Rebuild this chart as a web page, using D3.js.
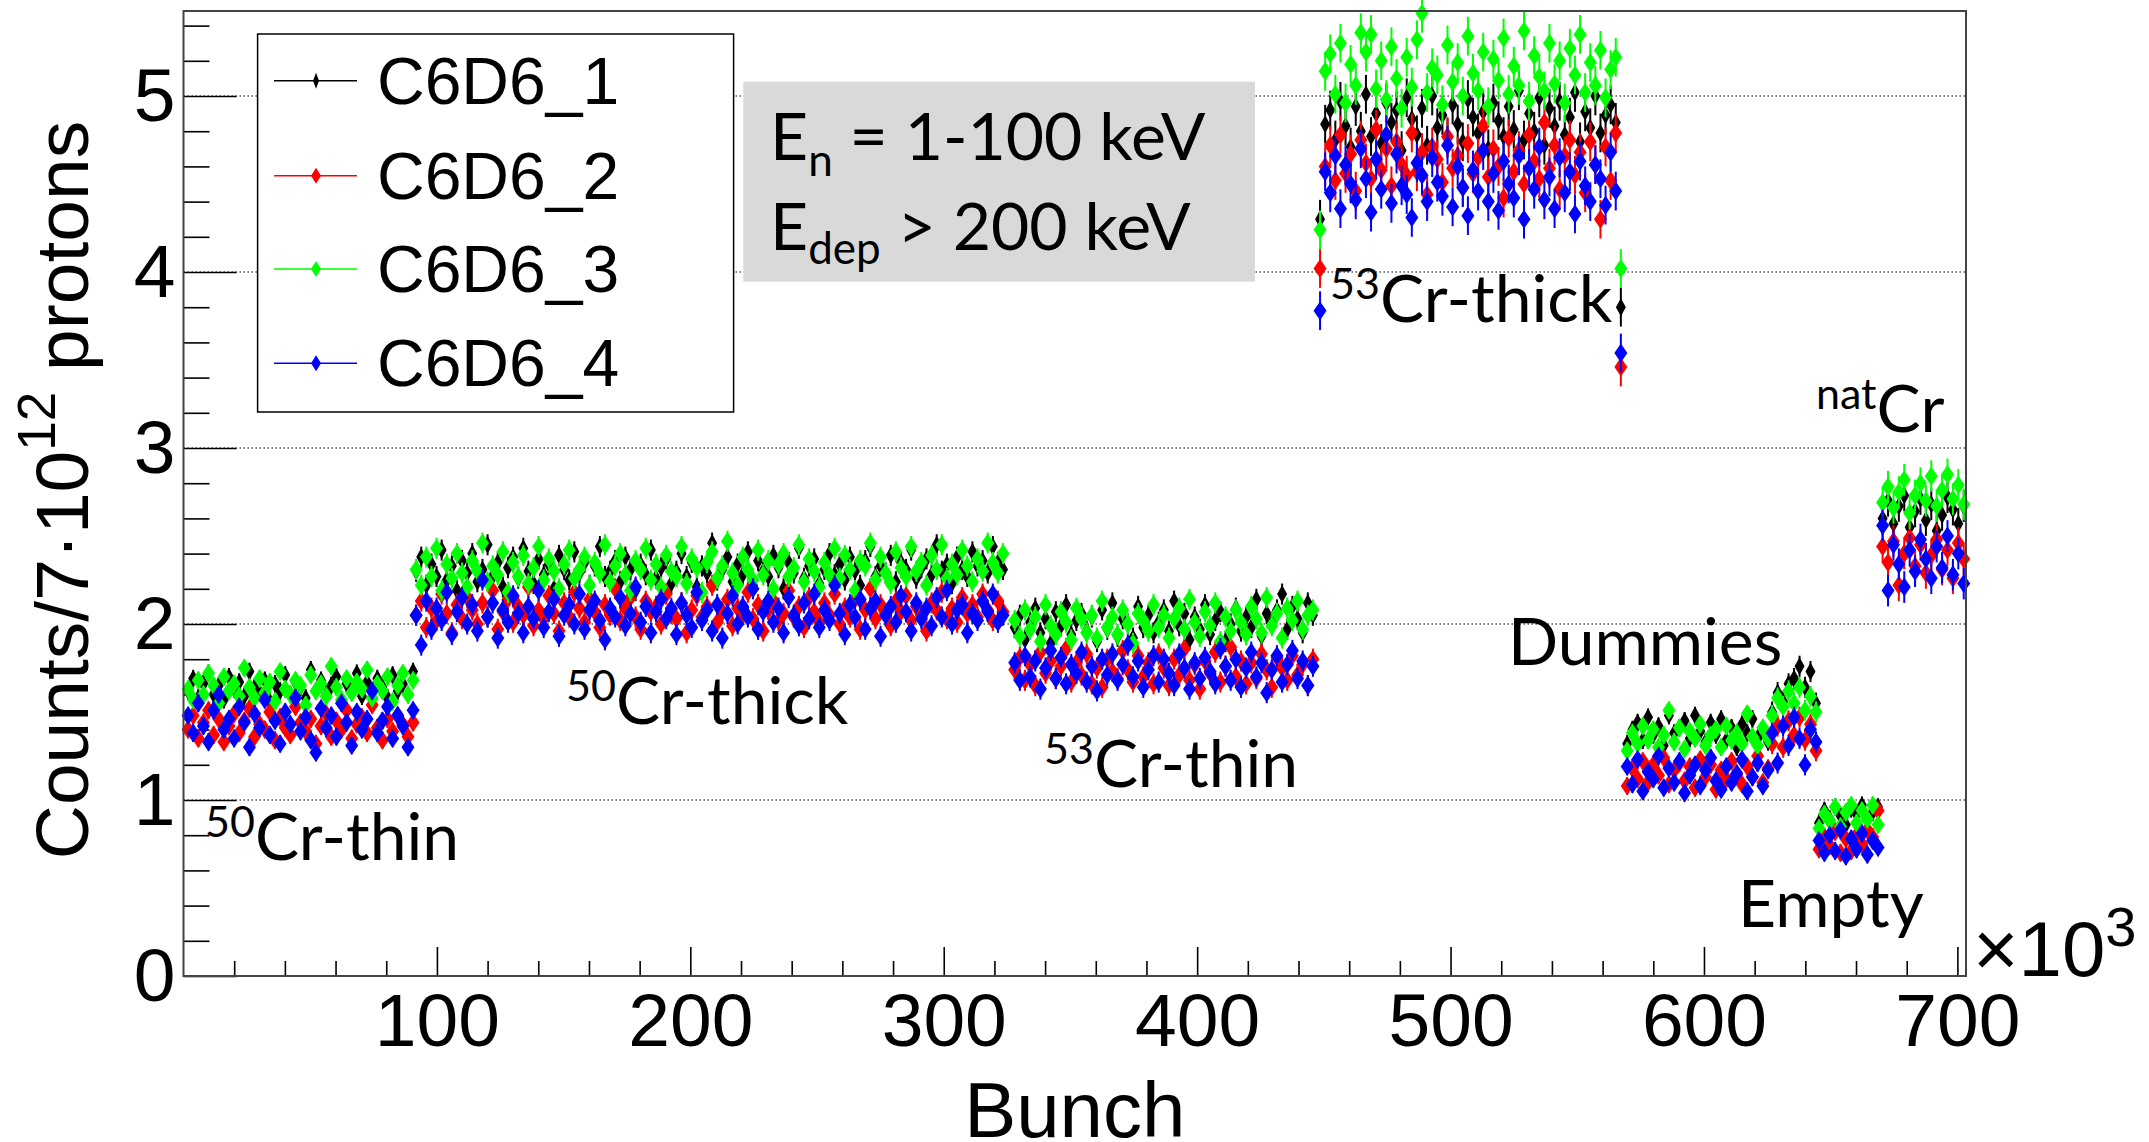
<!DOCTYPE html>
<html>
<head>
<meta charset="utf-8">
<script src="https://cdn.jsdelivr.net/npm/d3@7"></script>
<style>
  body { margin: 0; background: #fff; }
  .root { font-family: "Liberation Sans", Arial, Helvetica, sans-serif; fill: #000; }
  .note { font-family: Lato, "Open Sans", sans-serif; fill: #000; }
</style>
</head>
<body>
<svg id="chart" width="2149" height="1142"></svg>
<script>
// bunch ranges (x1000) of each sample block, in the order they were measured
const segments = ['50Cr-thin', '50Cr-thick', '53Cr-thin', '53Cr-thick', 'Dummies', 'Dummies-b', 'Empty', 'natCr'];
const segFrom = [1.8, 91.8, 328, 448.5, 569.7, 626.9, 645.4, 670.5];
const segTo = [90.6, 323.4, 445.7, 567.2, 625.3, 644.2, 668.7, 702.5];
const segErr = [0.05, 0.06, 0.06, 0.11, 0.05, 0.06, 0.05, 0.09];

const c6d6_1 = [
    [1.62,1.69,1.58,1.66,1.72,1.60,1.65,1.57,1.70,1.63,1.67,1.59,1.73,1.64,1.61,1.68,1.56,1.66,1.62,1.71,
     1.60,1.67,1.64,1.58,1.74,1.62,1.68,1.60,1.65,1.70,1.57,1.66,1.63,1.72,1.59,1.67,1.61,1.69,1.64,1.58,
     1.71,1.62,1.66,1.60,1.73],
    [2.30,2.38,2.22,2.34,2.27,2.42,2.25,2.33,2.19,2.36,2.29,2.40,2.24,2.31,2.45,2.27,2.35,2.21,2.32,2.38,
     2.26,2.43,2.30,2.23,2.37,2.28,2.34,2.20,2.39,2.31,2.25,2.41,2.29,2.35,2.22,2.33,2.44,2.27,2.30,2.36,
     2.24,2.38,2.31,2.19,2.34,2.28,2.42,2.26,2.32,2.37,2.23,2.30,2.40,2.27,2.35,2.21,2.33,2.29,2.46,2.25,
     2.31,2.38,2.24,2.34,2.28,2.41,2.22,2.36,2.30,2.27,2.39,2.32,2.20,2.35,2.29,2.43,2.26,2.33,2.37,2.23,
     2.31,2.40,2.28,2.34,2.25,2.38,2.30,2.22,2.36,2.44,2.27,2.33,2.29,2.39,2.24,2.35,2.31,2.42,2.26,2.32,
     2.37,2.28,2.45,2.30,2.34,2.23,2.38,2.31,2.27,2.41,2.33,2.36,2.29,2.44,2.35,2.31],
    [1.98,2.05,1.91,2.01,2.09,1.95,2.03,1.89,2.07,1.99,2.11,1.94,2.02,2.06,1.96,2.04,1.90,2.08,1.97,2.12,
     1.93,2.03,2.00,1.92,2.10,1.98,2.05,1.95,2.01,2.08,1.96,2.13,1.99,2.06,1.91,2.04,1.97,2.11,1.94,2.02,
     2.07,1.90,2.00,2.09,1.96,2.04,1.98,2.14,1.93,2.06,2.01,2.08,2.17,1.97,2.10,2.03,1.95,2.12,2.05],
    [4.30,4.84,4.92,4.75,4.97,4.83,4.71,4.94,4.80,5.01,4.77,4.90,4.73,4.96,4.85,4.92,4.69,4.99,4.87,4.78,
     4.93,4.72,5.00,4.82,4.89,4.76,4.95,4.84,4.74,4.98,4.88,4.79,4.91,4.70,4.96,4.86,4.77,4.94,4.81,5.03,
     4.75,4.90,4.80,4.99,4.72,4.93,4.83,4.97,4.78,4.88,5.02,4.74,4.91,4.82,5.00,4.79,4.89,4.95,4.85,3.80],
    [1.32,1.40,1.44,1.34,1.47,1.37,1.42,1.31,1.48,1.38,1.41,1.45,1.35,1.48,1.39,1.33,1.44,1.37,1.46,1.34,
     1.41,1.30,1.43,1.38,1.46,1.35,1.40,1.33],
    [1.50,1.61,1.56,1.66,1.69,1.76,1.64,1.73,1.55],
    [0.87,0.94,0.89,0.96,0.91,0.86,0.95,0.92,0.97,0.89,0.93,0.96],
    [2.60,2.70,2.57,2.67,2.73,2.55,2.64,2.71,2.59,2.68,2.53,2.62,2.72,2.65,2.57,2.67]
];

const c6d6_2 = [
    [1.40,1.48,1.35,1.44,1.51,1.37,1.46,1.33,1.42,1.49,1.38,1.45,1.52,1.36,1.43,1.40,1.50,1.34,1.47,1.41,
     1.37,1.53,1.44,1.39,1.46,1.32,1.42,1.49,1.36,1.45,1.40,1.51,1.35,1.43,1.47,1.38,1.54,1.41,1.34,1.46,
     1.39,1.48,1.43,1.36,1.44],
    [2.05,2.13,1.98,2.09,2.02,2.17,2.06,1.95,2.11,2.03,2.15,2.08,2.00,2.12,2.04,2.19,1.97,2.07,2.14,2.01,
     2.10,2.05,2.21,1.99,2.08,2.03,2.16,2.06,1.96,2.12,2.04,2.18,2.09,2.01,2.14,2.07,1.98,2.11,2.05,2.20,
     2.02,2.09,2.15,2.04,1.97,2.13,2.07,2.10,2.00,2.17,2.06,2.03,2.12,1.95,2.08,2.16,2.04,2.10,2.22,2.01,
     2.07,2.14,1.99,2.09,2.05,2.18,2.03,2.11,1.96,2.08,2.13,2.02,2.06,2.19,2.04,2.10,1.98,2.15,2.07,2.01,
     2.12,2.05,2.17,2.00,2.09,2.04,2.14,1.97,2.08,2.20,2.03,2.11,2.06,1.99,2.13,2.07,2.16,2.02,2.10,2.05,
     1.96,2.12,2.08,2.18,2.03,2.09,2.01,2.15,2.06,2.11,2.04,2.17,2.08,2.02,2.13,2.07],
    [1.74,1.81,1.68,1.77,1.65,1.84,1.72,1.79,1.69,1.76,1.86,1.67,1.78,1.71,1.83,1.66,1.75,1.64,1.80,1.73,
     1.69,1.85,1.74,1.67,1.82,1.70,1.78,1.66,1.83,1.75,1.65,1.80,1.71,1.86,1.68,1.77,1.63,1.79,1.72,1.84,
     1.67,1.76,1.87,1.70,1.79,1.66,1.78,1.69,1.83,1.74,1.64,1.81,1.75,1.68,1.82,1.71,1.77,1.65,1.80],
    [4.02,4.60,4.72,4.52,4.78,4.56,4.67,4.46,4.75,4.62,4.53,4.81,4.58,4.70,4.49,4.74,4.61,4.55,4.79,4.57,
     4.68,4.44,4.71,4.64,4.51,4.77,4.59,4.66,4.48,4.73,4.56,4.65,4.83,4.54,4.70,4.60,4.42,4.76,4.57,4.69,
     4.50,4.78,4.63,4.53,4.85,4.59,4.72,4.47,4.66,4.75,4.55,4.68,4.45,4.74,4.61,4.30,4.71,4.52,4.79,3.46],
    [1.08,1.18,1.12,1.22,1.10,1.20,1.14,1.24,1.09,1.17,1.21,1.11,1.19,1.07,1.23,1.13,1.20,1.06,1.17,1.12,
     1.22,1.15,1.09,1.19,1.13,1.25,1.10,1.18],
    [1.32,1.42,1.30,1.45,1.37,1.47,1.34,1.43,1.28],
    [0.72,0.79,0.74,0.82,0.70,0.78,0.71,0.80,0.75,0.83,0.79,0.94],
    [2.44,2.35,2.47,2.22,2.40,2.49,2.33,2.45,2.29,2.39,2.48,2.31,2.42,2.26,2.46,2.37]
];

const c6d6_3 = [
    [1.63,1.57,1.68,1.60,1.72,1.65,1.55,1.70,1.62,1.66,1.59,1.75,1.64,1.58,1.69,1.61,1.67,1.56,1.73,1.63,
     1.60,1.68,1.65,1.54,1.71,1.62,1.66,1.59,1.76,1.64,1.57,1.69,1.61,1.67,1.63,1.74,1.58,1.66,1.62,1.70,
     1.56,1.65,1.72,1.60,1.68],
    [2.31,2.22,2.38,2.27,2.43,2.19,2.34,2.26,2.40,2.29,2.21,2.36,2.30,2.46,2.24,2.33,2.28,2.41,2.18,2.35,
     2.27,2.39,2.23,2.32,2.44,2.25,2.37,2.30,2.20,2.34,2.42,2.26,2.31,2.38,2.22,2.35,2.29,2.45,2.24,2.33,
     2.40,2.28,2.19,2.36,2.31,2.43,2.25,2.34,2.21,2.39,2.30,2.27,2.44,2.23,2.37,2.32,2.18,2.35,2.41,2.26,
     2.33,2.47,2.29,2.22,2.38,2.31,2.25,2.42,2.28,2.36,2.20,2.34,2.40,2.27,2.32,2.45,2.24,2.37,2.30,2.21,
     2.35,2.28,2.43,2.26,2.39,2.31,2.19,2.36,2.33,2.46,2.25,2.38,2.29,2.23,2.41,2.32,2.27,2.44,2.30,2.35,
     2.22,2.39,2.31,2.45,2.26,2.34,2.28,2.42,2.33,2.24,2.37,2.30,2.46,2.35,2.29,2.40],
    [2.02,1.93,2.08,1.97,2.04,1.90,2.11,1.99,1.94,2.07,2.01,1.91,2.09,2.03,1.95,2.05,1.92,2.13,1.98,2.04,
     1.94,2.08,2.00,1.89,2.06,2.02,1.96,2.11,1.98,2.05,1.92,2.03,2.09,1.97,2.14,2.01,1.93,2.07,1.99,2.12,
     1.90,2.04,1.96,2.08,2.01,1.94,2.10,2.03,1.95,2.15,1.99,2.06,1.92,2.09,2.02,2.13,1.97,2.05,2.08],
    [4.24,5.14,5.24,5.01,5.30,4.96,5.18,5.06,5.36,5.25,5.35,5.04,5.20,4.98,5.28,5.10,4.93,5.22,5.05,5.32,
     5.47,5.02,5.16,5.12,4.95,5.29,5.08,5.19,5.00,5.34,5.13,5.03,5.25,4.94,5.21,5.09,5.33,5.01,5.17,5.06,
     5.37,4.97,5.23,5.11,5.03,5.30,5.07,5.20,4.96,5.27,5.12,5.35,5.02,5.19,5.06,5.26,4.99,5.15,5.22,4.02],
    [1.28,1.38,1.32,1.42,1.34,1.40,1.30,1.37,1.51,1.33,1.41,1.29,1.39,1.35,1.43,1.31,1.37,1.40,1.30,1.42,
     1.34,1.38,1.32,1.49,1.36,1.31,1.41,1.35],
    [1.48,1.58,1.53,1.62,1.55,1.64,1.51,1.59,1.50],
    [0.84,0.92,0.88,0.96,0.85,0.93,0.97,0.87,0.94,0.89,0.97,0.86],
    [2.69,2.78,2.66,2.75,2.82,2.63,2.73,2.80,2.70,2.84,2.67,2.76,2.85,2.71,2.79,2.68]
];

const c6d6_4 = [
    [1.48,1.38,1.55,1.42,1.33,1.51,1.60,1.40,1.46,1.35,1.53,1.44,1.30,1.49,1.41,1.57,1.37,1.45,1.32,1.50,
     1.43,1.58,1.39,1.47,1.34,1.27,1.52,1.41,1.48,1.36,1.55,1.44,1.31,1.50,1.40,1.46,1.62,1.38,1.45,1.53,
     1.35,1.48,1.42,1.30,1.51],
    [2.05,1.88,2.13,1.97,2.09,2.02,2.18,1.94,2.07,2.15,2.00,2.11,1.96,2.25,2.04,2.12,1.92,2.08,2.01,2.16,
     2.06,1.95,2.10,2.03,2.19,1.98,2.07,2.14,1.93,2.05,2.11,2.00,2.17,1.97,2.08,2.13,2.02,1.91,2.09,2.04,
     2.15,1.99,2.06,2.21,2.01,2.10,1.95,2.07,2.14,2.03,2.09,1.94,2.12,2.05,1.98,2.18,2.02,2.08,1.96,2.11,
     1.92,2.06,2.16,2.00,2.10,2.04,2.20,1.97,2.07,2.13,2.01,2.09,1.95,2.15,2.05,1.99,2.12,2.03,2.17,1.98,
     2.08,2.02,2.22,2.06,1.94,2.11,2.04,2.14,1.97,2.09,2.13,1.93,2.05,2.10,2.01,2.16,2.07,1.96,2.12,2.03,
     2.09,1.99,2.15,2.04,2.19,2.00,2.08,2.11,1.95,2.06,2.02,2.13,2.07,2.17,2.01,2.05],
    [1.78,1.68,1.82,1.70,1.79,1.63,1.75,1.85,1.69,1.81,1.66,1.77,1.72,1.84,1.67,1.76,1.62,1.80,1.71,1.83,
     1.68,1.77,1.88,1.70,1.79,1.64,1.74,1.82,1.67,1.80,1.72,1.65,1.83,1.75,1.63,1.78,1.69,1.81,1.73,1.66,
     1.86,1.76,1.68,1.80,1.64,1.75,1.84,1.70,1.78,1.61,1.74,1.82,1.67,1.77,1.85,1.69,1.79,1.65,1.76],
    [3.78,4.57,4.45,4.66,4.36,4.61,4.50,4.41,4.70,4.53,4.34,4.64,4.47,4.78,4.39,4.67,4.49,4.44,4.31,4.62,
     4.55,4.40,4.65,4.51,4.43,4.72,4.37,4.60,4.48,4.32,4.58,4.46,4.69,4.40,4.56,4.35,4.63,4.50,4.42,4.66,
     4.30,4.59,4.47,4.71,4.41,4.54,4.36,4.65,4.45,4.57,4.33,4.63,4.49,4.40,4.61,4.53,4.38,4.68,4.46,3.54],
    [1.19,1.09,1.23,1.05,1.16,1.12,1.25,1.07,1.18,1.10,1.22,1.04,1.14,1.20,1.08,1.17,1.24,1.11,1.06,1.19,
     1.10,1.15,1.23,1.05,1.13,1.21,1.08,1.17],
    [1.38,1.21,1.42,1.31,1.47,1.35,1.20,1.40,1.33],
    [0.77,0.70,0.80,0.71,0.83,0.68,0.78,0.72,0.81,0.69,0.77,0.73],
    [2.56,2.19,2.45,2.34,2.21,2.42,2.30,2.48,2.37,2.26,2.44,2.32,2.50,2.28,2.40,2.23]
];

const seriesNames = ['C6D6_1', 'C6D6_2', 'C6D6_3', 'C6D6_4'];
const seriesColors = ['#000000', '#ff0000', '#00ff00', '#0000ff'];
const seriesValues = [c6d6_1, c6d6_2, c6d6_3, c6d6_4];

const xTicks = [100, 200, 300, 400, 500, 600, 700];
const yTicks = [0, 1, 2, 3, 4, 5];

const svg = d3.select('#chart');
const x = d3.scaleLinear().domain([0, 703.4]).range([183.5, 1966]);
const y = d3.scaleLinear().domain([0, 5.483]).range([976, 11]);
const [x0, x1] = x.range();
const [yb, yt] = y.range();

svg.append('rect').attr('width', 2149).attr('height', 1142).attr('fill', '#fff');

// dotted grid at the integer values
svg.append('g')
    .selectAll('line')
    .data(yTicks.slice(1))
    .enter().append('line')
    .attr('x1', x0).attr('x2', x1)
    .attr('y1', d => y(d)).attr('y2', d => y(d))
    .attr('stroke', '#555')
    .attr('stroke-width', 1.5)
    .attr('stroke-dasharray', '1.5,2.5');

// ticks point into the frame, like ROOT does
let yMinor = d3.range(1, 28).filter(i => i % 5).map(i => i / 5);
let xMinor = d3.range(1, 36).filter(i => i % 5).map(i => i * 20);

let axisY = svg.append('g').attr('class', 'root').attr('transform', `translate(${x0},0)`)
    .call(d3.axisLeft(y).tickValues(yTicks).tickSizeInner(-53).tickSizeOuter(0).tickPadding(8).tickFormat(d3.format('d')));
svg.append('g').attr('transform', `translate(${x0},0)`)
    .call(d3.axisLeft(y).tickValues(yMinor).tickSizeInner(-26).tickSizeOuter(0).tickFormat(''));

let axisX = svg.append('g').attr('class', 'root').attr('transform', `translate(0,${yb})`)
    .call(d3.axisBottom(x).tickValues(xTicks).tickSizeInner(-29).tickSizeOuter(0).tickPadding(17).tickFormat(d3.format('d')));
svg.append('g').attr('transform', `translate(0,${yb})`)
    .call(d3.axisBottom(x).tickValues(xMinor).tickSizeInner(-15).tickSizeOuter(0).tickFormat(''));

svg.selectAll('.domain').remove();
svg.selectAll('.tick line').attr('stroke', '#000').attr('stroke-width', 1.6);
axisY.selectAll('text').attr('font-size', 75).attr('font-family', null).attr('fill', '#000');
axisX.selectAll('text').attr('font-size', 75).attr('font-family', null).attr('fill', '#000');

// graphs, drawn in detector order so C6D6_4 ends on top
const diamond = (w, h) => `M0,${-h}L${w},0L0,${h}L${-w},0Z`;

function points(values) {
    return values.flatMap((seg, k) => seg.map((v, i) => ({
        x: segFrom[k] + i * (segTo[k] - segFrom[k]) / (seg.length - 1),
        v: v,
        e: segErr[k]
    })));
}

seriesValues.forEach((values, s) => {
    let g = svg.append('g').attr('fill', seriesColors[s]).attr('stroke', seriesColors[s]);
    let pts = points(values);
    let shape = s === 0 ? diamond(5, 9) : diamond(6.5, 9.5);

    g.append('g')
        .selectAll('line')
        .data(pts)
        .enter().append('line')
        .attr('x1', d => x(d.x)).attr('x2', d => x(d.x))
        .attr('y1', d => y(d.v - d.e)).attr('y2', d => y(d.v + d.e))
        .attr('stroke-width', 2);

    g.append('g')
        .selectAll('path')
        .data(pts)
        .enter().append('path')
        .attr('d', shape)
        .attr('stroke', 'none')
        .attr('transform', d => `translate(${x(d.x)},${y(d.v)})`);
});

// frame
svg.append('rect')
    .attr('x', x0).attr('y', yt)
    .attr('width', x1 - x0).attr('height', yb - yt)
    .attr('fill', 'none')
    .attr('stroke', '#444')
    .attr('stroke-width', 2);

// axis titles
svg.append('text')
    .attr('class', 'root')
    .attr('font-size', 78)
    .attr('text-anchor', 'middle')
    .attr('x', (x0 + x1) / 2)
    .attr('y', 1137)
    .text('Bunch');

let yTitle = svg.append('text')
    .attr('class', 'root')
    .attr('font-size', 75)
    .attr('text-anchor', 'middle')
    .attr('transform', 'translate(88,490) rotate(-90)');
yTitle.append('tspan').text('Counts/7\u00b710');
yTitle.append('tspan').attr('font-size', 53).attr('dy', -33).text('12');
yTitle.append('tspan').attr('dy', 33).text(' protons');

let exponent = svg.append('text')
    .attr('class', 'root')
    .attr('font-size', 78)
    .attr('x', 1973)
    .attr('y', 976);
exponent.append('tspan').text('\u00d710');
exponent.append('tspan').attr('font-size', 56).attr('dy', -30).text('3');

// legend
const legendX = 257.6, legendY = 34;
const entryY = [80.7, 175.7, 269, 363.3];

svg.append('rect')
    .attr('x', legendX).attr('y', legendY)
    .attr('width', 476).attr('height', 378)
    .attr('fill', '#fff')
    .attr('stroke', '#000')
    .attr('stroke-width', 1.5);

let entries = svg.append('g')
    .selectAll('g')
    .data(seriesNames)
    .enter().append('g')
    .attr('transform', (d, i) => `translate(0,${entryY[i]})`);

entries.append('line')
    .attr('x1', 274).attr('x2', 357)
    .attr('stroke', (d, i) => seriesColors[i])
    .attr('stroke-width', 1.5);

entries.append('path')
    .attr('d', (d, i) => i === 0 ? diamond(3, 8) : diamond(5, 8))
    .attr('fill', (d, i) => seriesColors[i])
    .attr('transform', 'translate(316,0)');

entries.append('text')
    .attr('class', 'root')
    .attr('font-size', 66)
    .attr('x', 377)
    .attr('y', 23)
    .text(d => d);

// info box
svg.append('rect')
    .attr('x', 743.3).attr('y', 81.7)
    .attr('width', 511.7).attr('height', 200)
    .attr('fill', '#d9d9d9');

// a text line made of pieces, each [string, font size (0 = base), baseline offset]
function noteLine(px, py, size, parts) {
    let t = svg.append('text').attr('class', 'note').attr('font-size', size).attr('x', px).attr('y', py);
    let shift = 0;
    parts.filter(p => p[0]).forEach(([str, sz, dy]) => {
        t.append('tspan').attr('font-size', sz || size).attr('dy', dy - shift).text(str);
        shift = dy;
    });
    return t;
}

noteLine(770, 160, 66, [['E', 0, 0], ['n', 44, 16], [' = 1-100 keV', 0, 0]]);
noteLine(770, 250, 66, [['E', 0, 0], ['dep', 44, 14], [' > 200 keV', 0, 0]]);

// sample labels
const labels = [
    {sup: '50', name: 'Cr-thin', x: 205, y: 860},
    {sup: '50', name: 'Cr-thick', x: 566, y: 724},
    {sup: '53', name: 'Cr-thin', x: 1044, y: 787},
    {sup: '53', name: 'Cr-thick', x: 1330, y: 322},
    {sup: 'nat', name: 'Cr', x: 1816, y: 432},
    {sup: '', name: 'Dummies', x: 1508, y: 665},
    {sup: '', name: 'Empty', x: 1738, y: 927}
];

labels.forEach(l => noteLine(l.x, l.y, 66, [[l.sup, 43, -23], [l.name, 0, 0]]));
</script>
</body>
</html>
